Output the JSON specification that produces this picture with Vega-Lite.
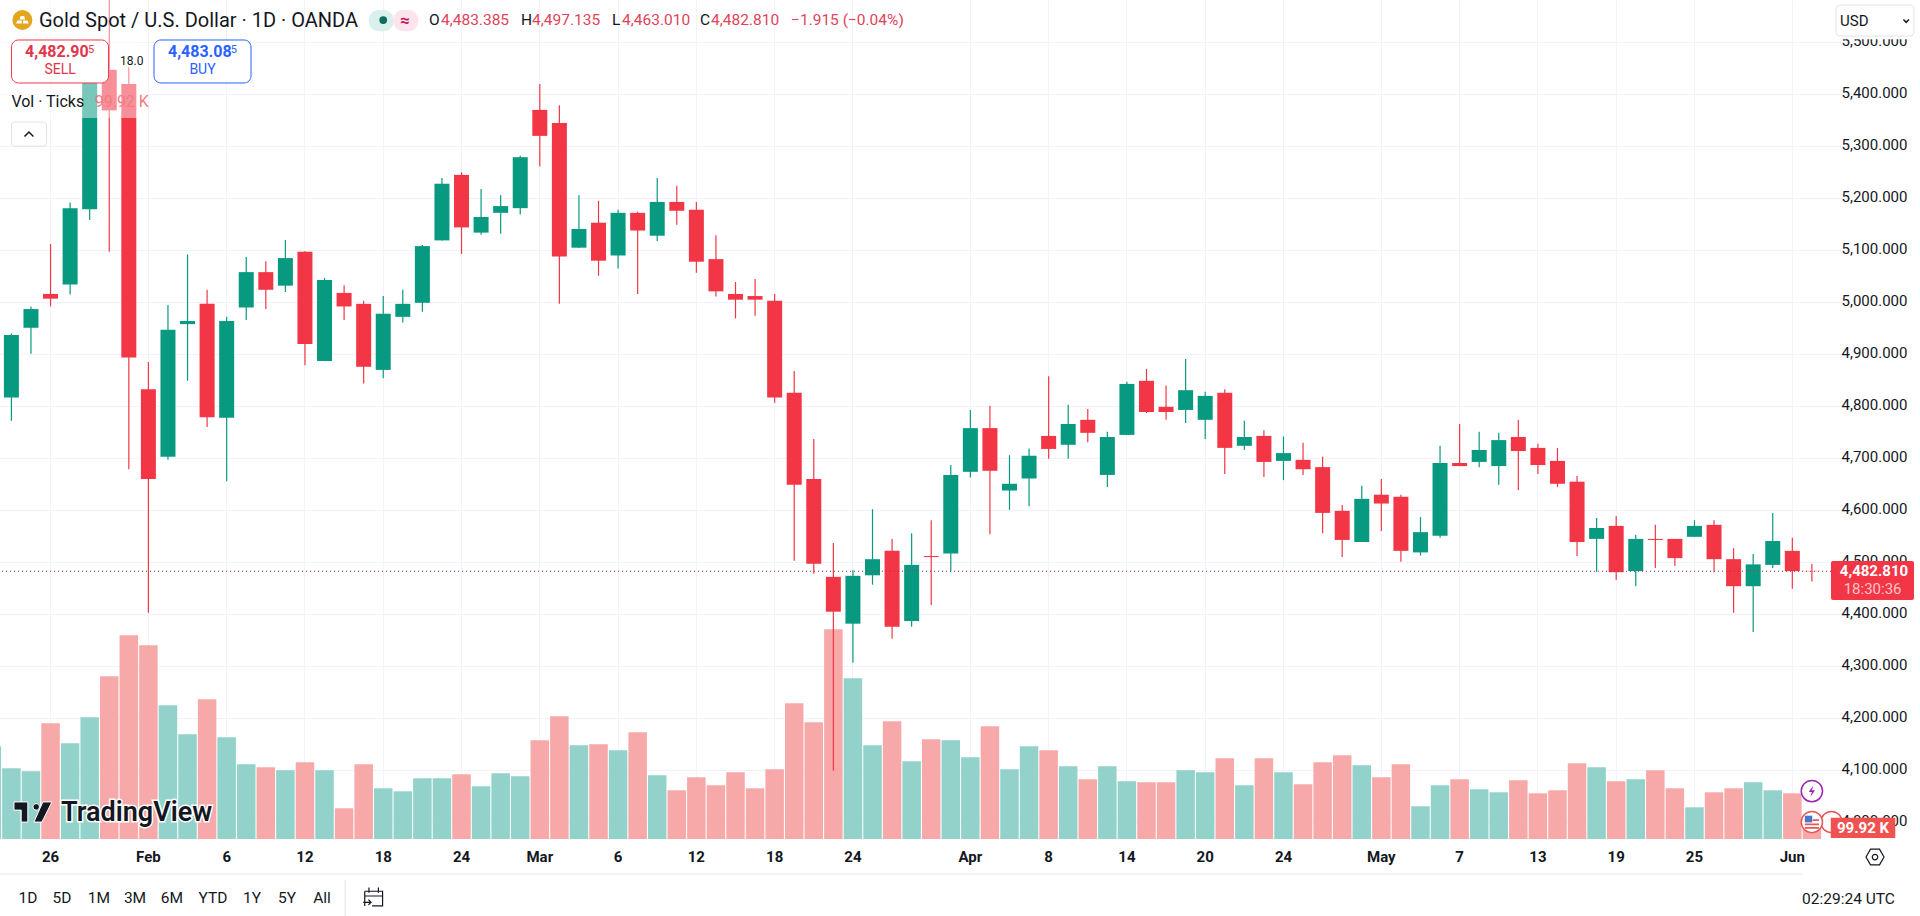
{
"$schema":"https://vega.github.io/schema/vega-lite/v6.json",
"description":"Gold Spot / U.S. Dollar daily candles with tick volume",
"width":1831,"height":839,
"autosize":{"type":"none"},
"padding":{"left":0,"top":0,"right":89,"bottom":77},
"background":"#ffffff",
"config":{"view":{"stroke":null},"text":{"font":"Roboto","baseline":"middle","color":"#131722"}},
"datasets":{"ohlcv":[
{"date":"2026-01-21","open":4760,"high":4880,"low":4740,"close":4830,"volume":649},
{"date":"2026-01-22","open":4817,"high":4940,"low":4772,"close":4937,"volume":495},
{"date":"2026-01-23","open":4951,"high":4992,"low":4901,"close":4987,"volume":474},
{"date":"2026-01-26","open":5016,"high":5112,"low":4992,"close":5007,"volume":810},
{"date":"2026-01-27","open":5034,"high":5192,"low":5015,"close":5181,"volume":670},
{"date":"2026-01-28","open":5179,"high":5450,"low":5158,"close":5440,"volume":852},
{"date":"2026-01-29","open":5447,"high":5598,"low":5097,"close":5369,"volume":1139},
{"date":"2026-01-30","open":5420,"high":5452,"low":4679,"close":4894,"volume":1426},
{"date":"2026-02-02","open":4833,"high":4885,"low":4403,"close":4660,"volume":1356},
{"date":"2026-02-03","open":4703,"high":4995,"low":4697,"close":4947,"volume":936},
{"date":"2026-02-04","open":4958,"high":5092,"low":4849,"close":4964,"volume":733},
{"date":"2026-02-05","open":4997,"high":5024,"low":4760,"close":4779,"volume":978},
{"date":"2026-02-06","open":4778,"high":4972,"low":4656,"close":4964,"volume":712},
{"date":"2026-02-09","open":4990,"high":5087,"low":4966,"close":5058,"volume":523},
{"date":"2026-02-10","open":5058,"high":5079,"low":4987,"close":5024,"volume":502},
{"date":"2026-02-11","open":5032,"high":5120,"low":5020,"close":5085,"volume":481},
{"date":"2026-02-12","open":5097,"high":5098,"low":4879,"close":4920,"volume":537},
{"date":"2026-02-13","open":4887,"high":5047,"low":4887,"close":5043,"volume":481},
{"date":"2026-02-16","open":5018,"high":5033,"low":4966,"close":4992,"volume":215},
{"date":"2026-02-17","open":4997,"high":5003,"low":4844,"close":4876,"volume":523},
{"date":"2026-02-18","open":4870,"high":5012,"low":4854,"close":4978,"volume":355},
{"date":"2026-02-19","open":4972,"high":5024,"low":4961,"close":4997,"volume":334},
{"date":"2026-02-20","open":4999,"high":5110,"low":4982,"close":5108,"volume":425},
{"date":"2026-02-23","open":5119,"high":5239,"low":5119,"close":5228,"volume":425},
{"date":"2026-02-24","open":5245,"high":5250,"low":5093,"close":5144,"volume":453},
{"date":"2026-02-25","open":5134,"high":5218,"low":5130,"close":5164,"volume":369},
{"date":"2026-02-26","open":5172,"high":5206,"low":5132,"close":5185,"volume":460},
{"date":"2026-02-27","open":5181,"high":5282,"low":5169,"close":5279,"volume":439},
{"date":"2026-03-02","open":5370,"high":5420,"low":5261,"close":5320,"volume":691},
{"date":"2026-03-03","open":5345,"high":5379,"low":4997,"close":5088,"volume":859},
{"date":"2026-03-04","open":5105,"high":5206,"low":5105,"close":5141,"volume":656},
{"date":"2026-03-05","open":5153,"high":5195,"low":5051,"close":5080,"volume":663},
{"date":"2026-03-06","open":5090,"high":5178,"low":5065,"close":5172,"volume":621},
{"date":"2026-03-09","open":5172,"high":5174,"low":5016,"close":5138,"volume":747},
{"date":"2026-03-10","open":5128,"high":5239,"low":5118,"close":5193,"volume":446},
{"date":"2026-03-11","open":5193,"high":5224,"low":5149,"close":5176,"volume":341},
{"date":"2026-03-12","open":5178,"high":5193,"low":5057,"close":5078,"volume":432},
{"date":"2026-03-13","open":5083,"high":5129,"low":5011,"close":5021,"volume":376},
{"date":"2026-03-16","open":5016,"high":5039,"low":4969,"close":5005,"volume":467},
{"date":"2026-03-17","open":5012,"high":5045,"low":4974,"close":5005,"volume":355},
{"date":"2026-03-18","open":5003,"high":5016,"low":4807,"close":4817,"volume":488},
{"date":"2026-03-19","open":4826,"high":4868,"low":4503,"close":4649,"volume":950},
{"date":"2026-03-20","open":4660,"high":4737,"low":4478,"close":4497,"volume":817},
{"date":"2026-03-23","open":4472,"high":4537,"low":4099,"close":4405,"volume":1468},
{"date":"2026-03-24","open":4382,"high":4485,"low":4307,"close":4474,"volume":1125},
{"date":"2026-03-25","open":4475,"high":4602,"low":4457,"close":4506,"volume":656},
{"date":"2026-03-26","open":4522,"high":4545,"low":4353,"close":4376,"volume":824},
{"date":"2026-03-27","open":4387,"high":4556,"low":4376,"close":4495,"volume":544},
{"date":"2026-03-30","open":4512,"high":4581,"low":4418,"close":4510,"volume":698},
{"date":"2026-03-31","open":4517,"high":4687,"low":4482,"close":4668,"volume":691},
{"date":"2026-04-01","open":4674,"high":4793,"low":4663,"close":4758,"volume":572},
{"date":"2026-04-02","open":4758,"high":4801,"low":4554,"close":4676,"volume":789},
{"date":"2026-04-06","open":4638,"high":4706,"low":4601,"close":4651,"volume":488},
{"date":"2026-04-07","open":4661,"high":4719,"low":4608,"close":4705,"volume":649},
{"date":"2026-04-08","open":4743,"high":4858,"low":4699,"close":4718,"volume":621},
{"date":"2026-04-09","open":4726,"high":4803,"low":4699,"close":4766,"volume":509},
{"date":"2026-04-10","open":4774,"high":4795,"low":4731,"close":4749,"volume":418},
{"date":"2026-04-13","open":4668,"high":4751,"low":4645,"close":4741,"volume":509},
{"date":"2026-04-14","open":4745,"high":4847,"low":4745,"close":4843,"volume":404},
{"date":"2026-04-15","open":4849,"high":4872,"low":4787,"close":4789,"volume":397},
{"date":"2026-04-16","open":4799,"high":4840,"low":4774,"close":4789,"volume":397},
{"date":"2026-04-17","open":4793,"high":4891,"low":4768,"close":4831,"volume":481},
{"date":"2026-04-20","open":4774,"high":4828,"low":4737,"close":4820,"volume":467},
{"date":"2026-04-21","open":4826,"high":4833,"low":4670,"close":4720,"volume":565},
{"date":"2026-04-22","open":4724,"high":4772,"low":4716,"close":4741,"volume":376},
{"date":"2026-04-23","open":4743,"high":4754,"low":4664,"close":4693,"volume":565},
{"date":"2026-04-24","open":4695,"high":4742,"low":4658,"close":4710,"volume":467},
{"date":"2026-04-27","open":4697,"high":4730,"low":4668,"close":4679,"volume":383},
{"date":"2026-04-28","open":4683,"high":4703,"low":4556,"close":4595,"volume":537},
{"date":"2026-04-29","open":4599,"high":4610,"low":4510,"close":4543,"volume":586},
{"date":"2026-04-30","open":4539,"high":4647,"low":4539,"close":4622,"volume":516},
{"date":"2026-05-01","open":4630,"high":4660,"low":4560,"close":4613,"volume":432},
{"date":"2026-05-04","open":4626,"high":4630,"low":4501,"close":4522,"volume":523},
{"date":"2026-05-05","open":4519,"high":4587,"low":4513,"close":4558,"volume":229},
{"date":"2026-05-06","open":4551,"high":4724,"low":4547,"close":4691,"volume":376},
{"date":"2026-05-07","open":4691,"high":4766,"low":4685,"close":4685,"volume":418},
{"date":"2026-05-08","open":4693,"high":4751,"low":4683,"close":4716,"volume":348},
{"date":"2026-05-11","open":4685,"high":4749,"low":4649,"close":4735,"volume":327},
{"date":"2026-05-12","open":4741,"high":4774,"low":4639,"close":4714,"volume":411},
{"date":"2026-05-13","open":4720,"high":4728,"low":4670,"close":4687,"volume":320},
{"date":"2026-05-14","open":4695,"high":4720,"low":4645,"close":4651,"volume":341},
{"date":"2026-05-15","open":4655,"high":4666,"low":4512,"close":4539,"volume":530},
{"date":"2026-05-18","open":4545,"high":4585,"low":4482,"close":4566,"volume":502},
{"date":"2026-05-19","open":4570,"high":4589,"low":4466,"close":4481,"volume":404},
{"date":"2026-05-20","open":4483,"high":4553,"low":4454,"close":4545,"volume":418},
{"date":"2026-05-21","open":4545,"high":4572,"low":4489,"close":4543,"volume":481},
{"date":"2026-05-22","open":4545,"high":4545,"low":4493,"close":4508,"volume":355},
{"date":"2026-05-25","open":4549,"high":4581,"low":4549,"close":4570,"volume":222},
{"date":"2026-05-26","open":4572,"high":4581,"low":4481,"close":4506,"volume":327},
{"date":"2026-05-27","open":4506,"high":4527,"low":4403,"close":4454,"volume":355},
{"date":"2026-05-28","open":4454,"high":4516,"low":4366,"close":4496,"volume":397},
{"date":"2026-05-29","open":4495,"high":4595,"low":4489,"close":4541,"volume":341},
{"date":"2026-06-01","open":4522,"high":4547,"low":4449,"close":4483,"volume":320},
{"date":"2026-06-02","open":4483.385,"high":4497.135,"low":4463.01,"close":4482.81,"volume":99.92}
]},
"data":{"name":"ohlcv"},
"encoding":{"x":{"field":"date","type":"nominal","title":null,
 "scale":{"type":"band","paddingInner":0,"paddingOuter":0,"range":[-17.96,1939.1],
 "domain":["2026-01-21","2026-01-22","2026-01-23","2026-01-26","2026-01-27","2026-01-28","2026-01-29","2026-01-30","2026-02-02","2026-02-03","2026-02-04","2026-02-05","2026-02-06","2026-02-09","2026-02-10","2026-02-11","2026-02-12","2026-02-13","2026-02-16","2026-02-17","2026-02-18","2026-02-19","2026-02-20","2026-02-23","2026-02-24","2026-02-25","2026-02-26","2026-02-27","2026-03-02","2026-03-03","2026-03-04","2026-03-05","2026-03-06","2026-03-09","2026-03-10","2026-03-11","2026-03-12","2026-03-13","2026-03-16","2026-03-17","2026-03-18","2026-03-19","2026-03-20","2026-03-23","2026-03-24","2026-03-25","2026-03-26","2026-03-27","2026-03-30","2026-03-31","2026-04-01","2026-04-02","2026-04-06","2026-04-07","2026-04-08","2026-04-09","2026-04-10","2026-04-13","2026-04-14","2026-04-15","2026-04-16","2026-04-17","2026-04-20","2026-04-21","2026-04-22","2026-04-23","2026-04-24","2026-04-27","2026-04-28","2026-04-29","2026-04-30","2026-05-01","2026-05-04","2026-05-05","2026-05-06","2026-05-07","2026-05-08","2026-05-11","2026-05-12","2026-05-13","2026-05-14","2026-05-15","2026-05-18","2026-05-19","2026-05-20","2026-05-21","2026-05-22","2026-05-25","2026-05-26","2026-05-27","2026-05-28","2026-05-29","2026-06-01","2026-06-02","2026-06-03","2026-06-04","2026-06-05","2026-06-08","2026-06-09","2026-06-10"]},
 "axis":{"domain":false,"ticks":false,"grid":true,"gridColor":"#f0f3fa","gridWidth":1,"labelAngle":0,"labelPadding":10,"labelFont":"Roboto","labelFontSize":15,"labelColor":"#131722","labelOverlap":false,"labelBound":false,"labelFlush":false,
 "labelFontWeight":{"condition":{"test":"length(datum.label)>2","value":"bold"},"value":"normal"},
 "values":["2026-01-26","2026-02-02","2026-02-06","2026-02-12","2026-02-18","2026-02-24","2026-03-02","2026-03-06","2026-03-12","2026-03-18","2026-03-24","2026-04-01","2026-04-08","2026-04-14","2026-04-20","2026-04-24","2026-05-01","2026-05-07","2026-05-13","2026-05-19","2026-05-25","2026-06-01"],
 "labelExpr":"datum.value=='2026-02-02'?'Feb':datum.value=='2026-03-02'?'Mar':datum.value=='2026-04-01'?'Apr':datum.value=='2026-05-01'?'May':datum.value=='2026-06-01'?'Jun':''+toNumber(slice(datum.value,8))"}}},
"layer":[
{"mark":{"type":"bar","size":18.5,"clip":true},
 "encoding":{"y":{"field":"volume","type":"quantitative","stack":null,"axis":null,"title":null,"scale":{"domain":[0,5873],"nice":false,"zero":true}},
 "color":{"condition":{"test":"datum.close>=datum.open","value":"#92d2cb"},"value":"#f7a8a8"}}},
{"encoding":{"y":{"field":"price","type":"quantitative","title":null,"scale":{"domain":[3967.9,5581.3],"nice":false,"zero":false},
  "axis":{"orient":"right","domain":false,"ticks":false,"grid":true,"gridColor":"#f0f3fa","gridWidth":1,"values":[4000,4100,4200,4300,4400,4500,4600,4700,4800,4900,5000,5100,5200,5300,5400,5500],"format":",.3f","labelFont":"Roboto","labelFontSize":15,"labelColor":"#131722","labelPadding":10,"labelOffset":-1.5,"labelOverlap":false,"labelBound":false,"labelFlush":false}}},
 "layer":[
 {"mark":{"type":"rule","strokeWidth":1.2,"clip":true},"encoding":{"y":{"field":"low","type":"quantitative","title":null,"scale":{"domain":[3967.9,5581.3],"nice":false,"zero":false},
  "axis":{"orient":"right","domain":false,"ticks":false,"grid":true,"gridColor":"#f0f3fa","gridWidth":1,"values":[4000,4100,4200,4300,4400,4500,4600,4700,4800,4900,5000,5100,5200,5300,5400,5500],"format":",.3f","labelFont":"Roboto","labelFontSize":15,"labelColor":"#131722","labelPadding":10,"labelOffset":-1.5,"labelOverlap":false,"labelBound":false,"labelFlush":false}},"y2":{"field":"high"},"color":{"condition":{"test":"datum.close>=datum.open","value":"#089981"},"value":"#f23645"}}},
 {"mark":{"type":"bar","size":15,"clip":true},"encoding":{"y":{"field":"open","type":"quantitative","title":null,"scale":{"domain":[3967.9,5581.3],"nice":false,"zero":false},
  "axis":{"orient":"right","domain":false,"ticks":false,"grid":true,"gridColor":"#f0f3fa","gridWidth":1,"values":[4000,4100,4200,4300,4400,4500,4600,4700,4800,4900,5000,5100,5200,5300,5400,5500],"format":",.3f","labelFont":"Roboto","labelFontSize":15,"labelColor":"#131722","labelPadding":10,"labelOffset":-1.5,"labelOverlap":false,"labelBound":false,"labelFlush":false}},"y2":{"field":"close"},"color":{"condition":{"test":"datum.close>=datum.open","value":"#089981"},"value":"#f23645"}}},
 {"data":{"values":[{"price":4482.81}]},"mark":{"type":"rule","strokeDash":[1,3],"strokeWidth":1,"color":"#a63346"},"encoding":{"x":null}},

 {"data":{"values":[{"date":"2026-01-27","price":5581.3,"price2":5354.4}]},"mark":{"type":"bar","size":140,"color":"#ffffff","opacity":0.45},"encoding":{"y2":{"field":"price2"}}},

 {"data":{"values":[{"date":"2026-01-26","price":5504.4,"price2":5421.7}]},"mark":{"type":"bar","size":97,"xOffset":9.5,"fill":"#ffffff","stroke":"#f23645","strokeWidth":1,"cornerRadius":7},"encoding":{"y2":{"field":"price2"}}},
 {"data":{"values":[{"date":"2026-02-05","price":5504.4,"price2":5421.7}]},"mark":{"type":"bar","size":97,"xOffset":-4.6,"fill":"#ffffff","stroke":"#2962ff","strokeWidth":1,"cornerRadius":7},"encoding":{"y2":{"field":"price2"}}},
 {"data":{"values":[{"date":"2026-01-23","price":5346.5,"price2":5300.4}]},"mark":{"type":"bar","size":35,"xOffset":-2,"fill":"#ffffff","stroke":"#e0e3eb","strokeWidth":1,"cornerRadius":3},"encoding":{"y2":{"field":"price2"}}},
 {"data":{"values":[{"date":"2026-01-23","price":5323}]},"mark":{"type":"point","shape":"M-1,0.5L0,-0.5L1,0.5","size":80,"filled":false,"stroke":"#131722","strokeWidth":1.5,"opacity":1,"xOffset":-2}},

 {"data":{"values":[{"date":"2026-01-22","price":5542.8}]},"mark":{"type":"point","shape":"circle","size":400,"filled":true,"color":"#e2a61e","opacity":1,"xOffset":11}},
 {"data":{"values":[{"date":"2026-01-22","price":5542.8}]},"mark":{"type":"point","shape":"M-0.3,-0.7H0.3L0.5,-0.1H-0.5ZM-0.9,0.1H-0.1V0.6H-1.1ZM0.1,0.1H0.9L1.1,0.6H0.1Z","size":130,"filled":true,"color":"#ffffff","opacity":1,"xOffset":11}},
 {"data":{"values":[{"date":"2026-01-23","price":5540.9,"label":"Gold Spot / U.S. Dollar · 1D · OANDA"}]},"mark":{"type":"text","align":"left","dx":8,"fontSize":20},"encoding":{"text":{"field":"label"}}},

 {"data":{"values":[{"date":"2026-02-18","price":5562,"price2":5521}]},"mark":{"type":"bar","size":25,"xOffset":-2,"color":"#d9f0ec","cornerRadius":10},"encoding":{"y2":{"field":"price2"}}},
 {"data":{"values":[{"date":"2026-02-19","price":5562,"price2":5521}]},"mark":{"type":"bar","size":25,"xOffset":3,"color":"#fce4ec","cornerRadius":10},"encoding":{"y2":{"field":"price2"}}},
 {"data":{"values":[{"date":"2026-02-18","price":5542.8}]},"mark":{"type":"point","shape":"circle","size":60,"filled":true,"color":"#0b6e5f","opacity":1}},
 {"data":{"values":[{"date":"2026-02-19","price":5541,"label":"≈"}]},"mark":{"type":"text","align":"center","dx":2,"fontSize":17,"fontWeight":"bold","color":"#c2185b"},"encoding":{"text":{"field":"label"}}},

 {"data":{"values":[{"date":"2026-02-20","price":5542,"label":"O"}]},"mark":{"type":"text","align":"left","dx":6.6,"fontSize":15.5},"encoding":{"text":{"field":"label"}}},
 {"data":{"values":[{"date":"2026-02-23","price":5542,"label":"4,483.385"}]},"mark":{"type":"text","align":"left","dx":-1,"fontSize":15.5,"color":"#e0435a"},"encoding":{"text":{"field":"label"}}},
 {"data":{"values":[{"date":"2026-02-27","price":5542,"label":"H"}]},"mark":{"type":"text","align":"left","dx":0.8,"fontSize":15.5},"encoding":{"text":{"field":"label"}}},
 {"data":{"values":[{"date":"2026-03-02","price":5542,"label":"4,497.135"}]},"mark":{"type":"text","align":"left","dx":-7.8,"fontSize":15.5,"color":"#e0435a"},"encoding":{"text":{"field":"label"}}},
 {"data":{"values":[{"date":"2026-03-06","price":5542,"label":"L"}]},"mark":{"type":"text","align":"left","dx":-6,"fontSize":15.5},"encoding":{"text":{"field":"label"}}},
 {"data":{"values":[{"date":"2026-03-06","price":5542,"label":"4,463.010"}]},"mark":{"type":"text","align":"left","dx":4,"fontSize":15.5,"color":"#e0435a"},"encoding":{"text":{"field":"label"}}},
 {"data":{"values":[{"date":"2026-03-12","price":5542,"label":"C"}]},"mark":{"type":"text","align":"left","dx":3.6,"fontSize":15.5},"encoding":{"text":{"field":"label"}}},
 {"data":{"values":[{"date":"2026-03-13","price":5542,"label":"4,482.810"}]},"mark":{"type":"text","align":"left","dx":-4.9,"fontSize":15.5,"color":"#e0435a"},"encoding":{"text":{"field":"label"}}},
 {"data":{"values":[{"date":"2026-03-19","price":5542,"label":"−1.915 (−0.04%)"}]},"mark":{"type":"text","align":"left","dx":-3.2,"fontSize":15.5,"color":"#e0435a"},"encoding":{"text":{"field":"label"}}},

 {"data":{"values":[{"date":"2026-01-26","price":5481.3,"label":"4,482.90"}]},"mark":{"type":"text","align":"left","dx":-25.5,"fontSize":16,"fontWeight":"bold","color":"#e0354a"},"encoding":{"text":{"field":"label"}}},
 {"data":{"values":[{"date":"2026-01-27","price":5485,"label":"5"}]},"mark":{"type":"text","align":"left","dx":18,"fontSize":11,"color":"#e0354a"},"encoding":{"text":{"field":"label"}}},
 {"data":{"values":[{"date":"2026-01-27","price":5446.7,"label":"SELL"}]},"mark":{"type":"text","align":"center","dx":-10,"fontSize":14,"color":"#e0354a"},"encoding":{"text":{"field":"label"}}},
 {"data":{"values":[{"date":"2026-02-03","price":5481.3,"label":"4,483.08"}]},"mark":{"type":"text","align":"left","dx":0,"fontSize":16,"fontWeight":"bold","color":"#2962ff"},"encoding":{"text":{"field":"label"}}},
 {"data":{"values":[{"date":"2026-02-06","price":5485,"label":"5"}]},"mark":{"type":"text","align":"left","dx":4,"fontSize":11,"color":"#2962ff"},"encoding":{"text":{"field":"label"}}},
 {"data":{"values":[{"date":"2026-02-05","price":5446.7,"label":"BUY"}]},"mark":{"type":"text","align":"center","dx":-4.6,"fontSize":14,"color":"#2962ff"},"encoding":{"text":{"field":"label"}}},
 {"data":{"values":[{"date":"2026-01-30","price":5464,"label":"18.0"}]},"mark":{"type":"text","align":"center","dx":3,"fontSize":12},"encoding":{"text":{"field":"label"}}},
 {"data":{"values":[{"date":"2026-01-22","price":5385,"label":"Vol · Ticks"}]},"mark":{"type":"text","align":"left","dx":0,"fontSize":16},"encoding":{"text":{"field":"label"}}},
 {"data":{"values":[{"date":"2026-01-28","price":5385,"label":"99.92 K"}]},"mark":{"type":"text","align":"left","dx":5,"fontSize":16,"color":"#f27c80"},"encoding":{"text":{"field":"label"}}},

 {"data":{"values":[{"date":"2026-01-23","price":4019.8}]},"mark":{"type":"point","shape":"M-1,-0.53H-0.27V0.53H-0.62V-0.1H-1ZM0,-0.27a0.17,0.17 0 1,0 0.34,0a0.17,0.17 0 1,0 -0.34,0ZM0.52,-0.53H1L0.47,0.53H0.05Z","size":1444,"filled":true,"color":"#131722","opacity":1,"stroke":"#ffffff","strokeWidth":1,"xOffset":2}},
 {"data":{"values":[{"date":"2026-01-26","price":4017.8,"label":"TradingView"}]},"mark":{"type":"text","align":"left","dx":10.5,"fontSize":27,"fontWeight":600,"stroke":"#ffffff","strokeWidth":3,"color":"#ffffff"},"encoding":{"text":{"field":"label"}}},
 {"data":{"values":[{"date":"2026-01-26","price":4017.8,"label":"TradingView"}]},"mark":{"type":"text","align":"left","dx":10.5,"fontSize":27,"fontWeight":600},"encoding":{"text":{"field":"label"}}},

 {"data":{"values":[{"date":"2026-06-02","price":4060}]},"mark":{"type":"point","shape":"circle","size":452,"filled":true,"fill":"#ffffff","stroke":"#9c27b0","strokeWidth":1.5,"opacity":1}},
 {"data":{"values":[{"date":"2026-06-02","price":4060}]},"mark":{"type":"point","shape":"M0.25,-1L-0.55,0.15H0L-0.25,1L0.55,-0.15H0Z","size":130,"filled":true,"color":"#9c27b0","opacity":1}},
 {"data":{"values":[{"date":"2026-06-03","price":4000.5}]},"mark":{"type":"point","shape":"circle","size":452,"filled":true,"fill":"#ffffff","stroke":"#e8555a","strokeWidth":1.5,"opacity":1}},
 {"data":{"values":[{"date":"2026-06-02","price":4000.5}]},"mark":{"type":"point","shape":"circle","size":452,"filled":true,"fill":"#ffffff","stroke":"#e8555a","strokeWidth":1.5,"opacity":1}},
 {"data":{"values":[{"date":"2026-06-02","price":4000.5}]},"mark":{"type":"point","shape":"M-1,-0.9H0.05V0.05H-1Z","size":200,"filled":true,"color":"#4a78c8","opacity":1}},
 {"data":{"values":[{"date":"2026-06-02","price":4000.5}]},"mark":{"type":"point","shape":"M-1,0.2H1V0.45H-1ZM-1,0.7H1V0.95H-1ZM0.1,-0.4H1V-0.15H0.1Z","size":200,"filled":true,"color":"#e8555a","opacity":1}},

 {"data":{"values":[{"date":"2026-06-05","price":4502.5,"price2":4427.5}]},"mark":{"type":"bar","size":83,"xOffset":1.9,"color":"#f23645","cornerRadius":2},"encoding":{"y2":{"field":"price2"}}},
 {"data":{"values":[{"date":"2026-06-05","price":4483,"label":"4,482.810"}]},"mark":{"type":"text","align":"center","dx":3.4,"fontSize":15,"fontWeight":"bold","color":"#ffffff"},"encoding":{"text":{"field":"label"}}},
 {"data":{"values":[{"date":"2026-06-05","price":4448.6,"label":"18:30:36"}]},"mark":{"type":"text","align":"center","dx":2,"fontSize":15,"color":"#fbc4c8"},"encoding":{"text":{"field":"label"}}},
 {"data":{"values":[{"date":"2026-06-04","price":4008.7,"price2":3970}]},"mark":{"type":"bar","size":64.5,"xOffset":12,"color":"#ef5350"},"encoding":{"y2":{"field":"price2"}}},
 {"data":{"values":[{"date":"2026-06-04","price":3989,"label":"99.92 K"}]},"mark":{"type":"text","align":"center","dx":12,"fontSize":15,"fontWeight":"bold","color":"#ffffff"},"encoding":{"text":{"field":"label"}}},

 {"data":{"values":[{"date":"2026-06-05","price":5581.3,"price2":5506}]},"mark":{"type":"bar","size":89,"xOffset":4.9,"color":"#ffffff"},"encoding":{"y2":{"field":"price2"}}},
 {"data":{"values":[{"date":"2026-06-05","price":5571.7,"price2":5512}]},"mark":{"type":"bar","size":78,"xOffset":4.4,"fill":"#ffffff","stroke":"#e0e3eb","strokeWidth":1,"cornerRadius":4},"encoding":{"y2":{"field":"price2"}}},
 {"data":{"values":[{"date":"2026-06-04","price":5541,"label":"USD"}]},"mark":{"type":"text","align":"left","dx":-11,"fontSize":15},"encoding":{"text":{"field":"label"}}},
 {"data":{"values":[{"date":"2026-06-08","price":5541}]},"mark":{"type":"point","shape":"M-1,-0.5L0,0.5L1,-0.5","size":30,"filled":false,"stroke":"#131722","strokeWidth":1.5,"opacity":1,"xOffset":16}},

 {"data":{"values":[{"date":"2026-06-05","price":3933.2}]},"mark":{"type":"point","shape":"M-1,0L-0.5,-0.87H0.5L1,0L0.5,0.87H-0.5Z","size":324,"filled":false,"stroke":"#131722","strokeWidth":1.2,"opacity":1,"xOffset":4.4}},
 {"data":{"values":[{"date":"2026-06-05","price":3933.2}]},"mark":{"type":"point","shape":"circle","size":30,"filled":false,"stroke":"#131722","strokeWidth":1.2,"opacity":1,"xOffset":4.4}},

 {"data":{"values":[{"date":"2026-03-23","price":3900.9,"price2":3899.6}]},"mark":{"type":"bar","size":1920,"xOffset":9.2,"color":"#e0e3eb"},"encoding":{"y2":{"field":"price2"}}},
 {"data":{"values":[{"date":"2026-02-16","price":3889,"price2":3820}]},"mark":{"type":"rule","color":"#e0e3eb","strokeWidth":1,"xOffset":1},"encoding":{"y2":{"field":"price2"}}},
 {"data":{"values":[{"date":"2026-02-17","price":3856.3}]},"mark":{"type":"point","shape":"M-0.85,-0.55H0.85V0.85H-0.15M-0.85,0.85V-0.55M-0.85,-0.1H0.85M-0.45,-0.9V-0.4M0.45,-0.9V-0.4M-1,0.5H-0.25M-0.5,0.25L-0.25,0.5L-0.5,0.75","size":440,"filled":false,"stroke":"#131722","strokeWidth":1.2,"opacity":1,"xOffset":10}},

 {"data":{"values":[{"date":"2026-01-23","price":3855,"label":"1D"}]},"mark":{"type":"text","align":"center","dx":-3,"fontSize":15.5},"encoding":{"text":{"field":"label"}}},
 {"data":{"values":[{"date":"2026-01-26","price":3855,"label":"5D"}]},"mark":{"type":"text","align":"center","dx":11.5,"fontSize":15.5},"encoding":{"text":{"field":"label"}}},
 {"data":{"values":[{"date":"2026-01-28","price":3855,"label":"1M"}]},"mark":{"type":"text","align":"center","dx":9.3,"fontSize":15.5},"encoding":{"text":{"field":"label"}}},
 {"data":{"values":[{"date":"2026-01-30","price":3855,"label":"3M"}]},"mark":{"type":"text","align":"center","dx":6.2,"fontSize":15.5},"encoding":{"text":{"field":"label"}}},
 {"data":{"values":[{"date":"2026-02-03","price":3855,"label":"6M"}]},"mark":{"type":"text","align":"center","dx":4,"fontSize":15.5},"encoding":{"text":{"field":"label"}}},
 {"data":{"values":[{"date":"2026-02-05","price":3855,"label":"YTD"}]},"mark":{"type":"text","align":"center","dx":5.9,"fontSize":15.5},"encoding":{"text":{"field":"label"}}},
 {"data":{"values":[{"date":"2026-02-09","price":3855,"label":"1Y"}]},"mark":{"type":"text","align":"center","dx":5.8,"fontSize":15.5},"encoding":{"text":{"field":"label"}}},
 {"data":{"values":[{"date":"2026-02-11","price":3855,"label":"5Y"}]},"mark":{"type":"text","align":"center","dx":1.6,"fontSize":15.5},"encoding":{"text":{"field":"label"}}},
 {"data":{"values":[{"date":"2026-02-13","price":3855,"label":"All"}]},"mark":{"type":"text","align":"center","dx":-2.5,"fontSize":15.5},"encoding":{"text":{"field":"label"}}},
 {"data":{"values":[{"date":"2026-06-02","price":3852.4,"label":"02:29:24 UTC"}]},"mark":{"type":"text","align":"left","dx":-9.8,"fontSize":15.5},"encoding":{"text":{"field":"label"}}}
 ]}
],
"resolve":{"scale":{"y":"independent"}}
}
